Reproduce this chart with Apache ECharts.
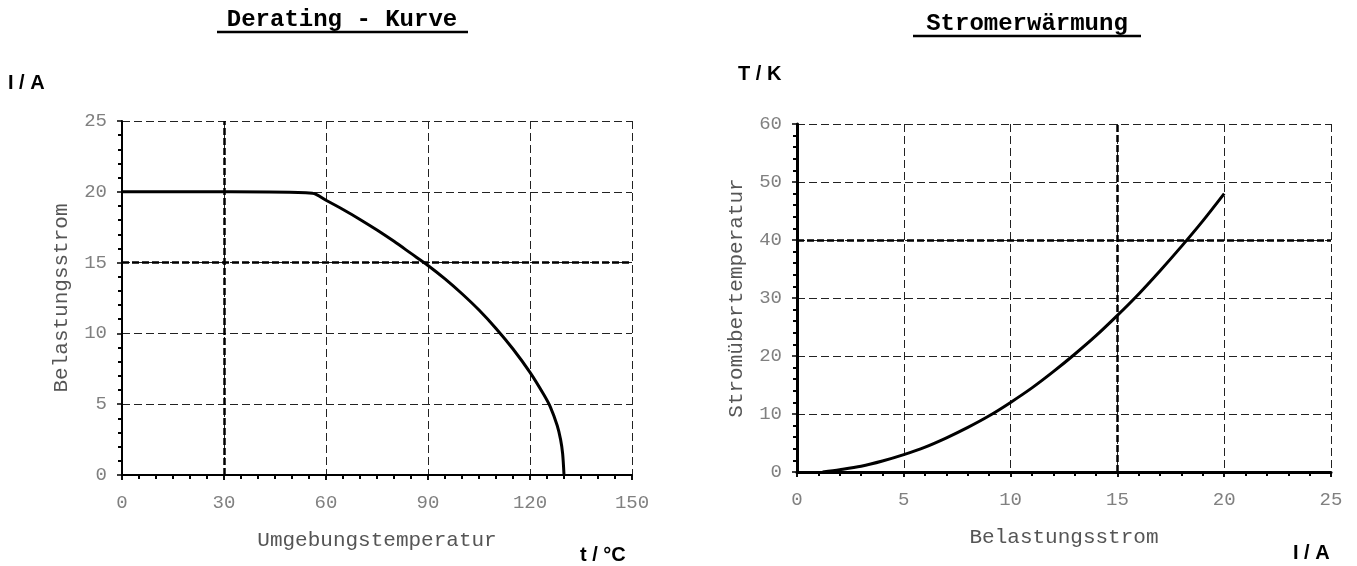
<!DOCTYPE html>
<html>
<head>
<meta charset="utf-8">
<script src="https://cdn.jsdelivr.net/npm/echarts@6/dist/echarts.min.js"></script>
<style>
  html, body { margin: 0; padding: 0; background: #fff; }
  #main { width: 1357px; height: 566px; }
</style>
</head>
<body>
<div id="main"></div>
<script>
// Derating - Kurve: ambient temperature (°C) vs load current (A)
const deratingTemp = [0, 32, 56, 60, 65, 70, 75, 80, 85, 90, 95, 100, 105, 110, 115, 120, 124, 126, 128, 129, 129.6, 130]
const deratingCurrent = [20, 20, 19.9, 19.4, 18.75, 18.05, 17.3, 16.5, 15.65, 14.8, 13.85, 12.8, 11.65, 10.35, 8.9, 7.25, 5.7, 4.8, 3.5, 2.5, 1.5, 0]

// Stromerwärmung: load current (A) vs temperature rise (K)
const heatCurrent = [1.2, 2, 3, 4, 5, 6, 7, 8, 9, 10, 11, 12, 13, 14, 15, 16, 17, 18, 19, 20]
const heatRise = [0, 0.4, 1.0, 1.9, 3.0, 4.3, 5.9, 7.7, 9.7, 12.0, 14.5, 17.3, 20.3, 23.5, 27.0, 30.7, 34.7, 38.9, 43.3, 48.0]

// highlighted grid lines
const deratingMarkX = [30]
const deratingMarkY = [15]
const heatMarkX = [15]
const heatMarkY = [40]

const mono = 'Liberation Mono'
const sans = 'Liberation Sans'

const pairs = (xs, ys) => xs.map((x, i) => [x, ys[i]])

function valueAxis(opt) {
  return Object.assign({
    type: 'value',
    axisLine: { show: true, onZero: false, lineStyle: { color: '#000', width: 2 } },
    axisTick: { show: true, length: 5, lineStyle: { color: '#000', width: 1.5 } },
    axisLabel: { color: '#808080', fontFamily: mono, fontSize: 19, margin: 15 },
    splitLine: { show: true, lineStyle: { color: '#222', width: 1, type: [8, 4] } },
    nameLocation: 'middle',
    nameTextStyle: { color: '#555', fontFamily: mono, fontSize: 21 }
  }, opt)
}

function minor(n) {
  return { show: true, splitNumber: n, length: 4, lineStyle: { color: '#000', width: 2 } }
}

function topTicks(gridIndex, max, interval) {
  return {
    type: 'value', gridIndex: gridIndex, position: 'top', min: 0, max: max, interval: interval,
    axisLine: { show: false },
    axisTick: { show: true, inside: true, length: 5, lineStyle: { color: '#000', width: 1.5 } },
    axisLabel: { show: false },
    splitLine: { show: false }
  }
}

function markLines(xs, ys) {
  return {
    silent: true,
    symbol: 'none',
    label: { show: false },
    lineStyle: { color: '#000', width: 2.5, type: [7, 3] },
    data: xs.map(v => ({ xAxis: v })).concat(ys.map(v => ({ yAxis: v })))
  }
}

const chart = echarts.init(document.getElementById('main'))

chart.setOption({
  animation: false,
  backgroundColor: '#fff',
  grid: [
    { left: 122, top: 121, width: 510, height: 354 },
    { left: 797, top: 124, width: 534, height: 348 }
  ],
  xAxis: [
    valueAxis({ gridIndex: 0, min: 0, max: 150, interval: 30,
      minorTick: minor(6),
      axisLabel: { color: '#808080', fontFamily: mono, fontSize: 19, margin: 18 },
      name: 'Umgebungstemperatur', nameGap: 55 }),
    valueAxis({ gridIndex: 1, min: 0, max: 25, interval: 5,
      minorTick: minor(5),
      axisLine: { show: true, onZero: false, lineStyle: { color: '#000', width: 3 } },
      axisLabel: { color: '#808080', fontFamily: mono, fontSize: 19, margin: 18 },
      name: 'Belastungsstrom', nameGap: 55 }),
    topTicks(0, 150, 30),
    topTicks(1, 25, 5)
  ],
  yAxis: [
    valueAxis({ gridIndex: 0, min: 0, max: 25, interval: 5,
      minorTick: minor(5),
      name: 'Belastungsstrom', nameGap: 50 }),
    valueAxis({ gridIndex: 1, min: 0, max: 60, interval: 10,
      minorTick: minor(5),
      axisLine: { show: true, onZero: false, lineStyle: { color: '#000', width: 3 } },
      name: 'Stromübertemperatur', nameGap: 50 })
  ],
  series: [
    {
      type: 'line', xAxisIndex: 0, yAxisIndex: 0,
      data: pairs(deratingTemp, deratingCurrent),
      showSymbol: false, smooth: 0.3,
      lineStyle: { color: '#000', width: 3 },
      markLine: markLines(deratingMarkX, deratingMarkY),
      z: 5
    },
    {
      type: 'line', xAxisIndex: 1, yAxisIndex: 1,
      data: pairs(heatCurrent, heatRise),
      showSymbol: false, smooth: 0.3,
      lineStyle: { color: '#000', width: 3 },
      markLine: markLines(heatMarkX, heatMarkY),
      z: 5
    }
  ],
  graphic: [
    { type: 'text', x: 342, y: 20, style: { text: 'Derating - Kurve', fontFamily: mono, fontWeight: 'bold', fontSize: 24, fill: '#000', align: 'center', verticalAlign: 'middle' } },
    { type: 'line', shape: { x1: 217, y1: 32, x2: 468, y2: 32 }, style: { stroke: '#000', lineWidth: 2.5 } },
    { type: 'text', x: 1027, y: 24, style: { text: 'Stromerwärmung', fontFamily: mono, fontWeight: 'bold', fontSize: 24, fill: '#000', align: 'center', verticalAlign: 'middle' } },
    { type: 'line', shape: { x1: 913, y1: 36, x2: 1141, y2: 36 }, style: { stroke: '#000', lineWidth: 2.5 } },
    { type: 'text', x: 8, y: 83, style: { text: 'I / A', fontFamily: sans, fontWeight: 'bold', fontSize: 20, fill: '#000', verticalAlign: 'middle' } },
    { type: 'text', x: 580, y: 555, style: { text: 't / °C', fontFamily: sans, fontWeight: 'bold', fontSize: 20, fill: '#000', verticalAlign: 'middle' } },
    { type: 'text', x: 738, y: 74, style: { text: 'T / K', fontFamily: sans, fontWeight: 'bold', fontSize: 20, fill: '#000', verticalAlign: 'middle' } },
    { type: 'text', x: 1293, y: 553, style: { text: 'I / A', fontFamily: sans, fontWeight: 'bold', fontSize: 20, fill: '#000', verticalAlign: 'middle' } }
  ]
})
</script>
</body>
</html>
